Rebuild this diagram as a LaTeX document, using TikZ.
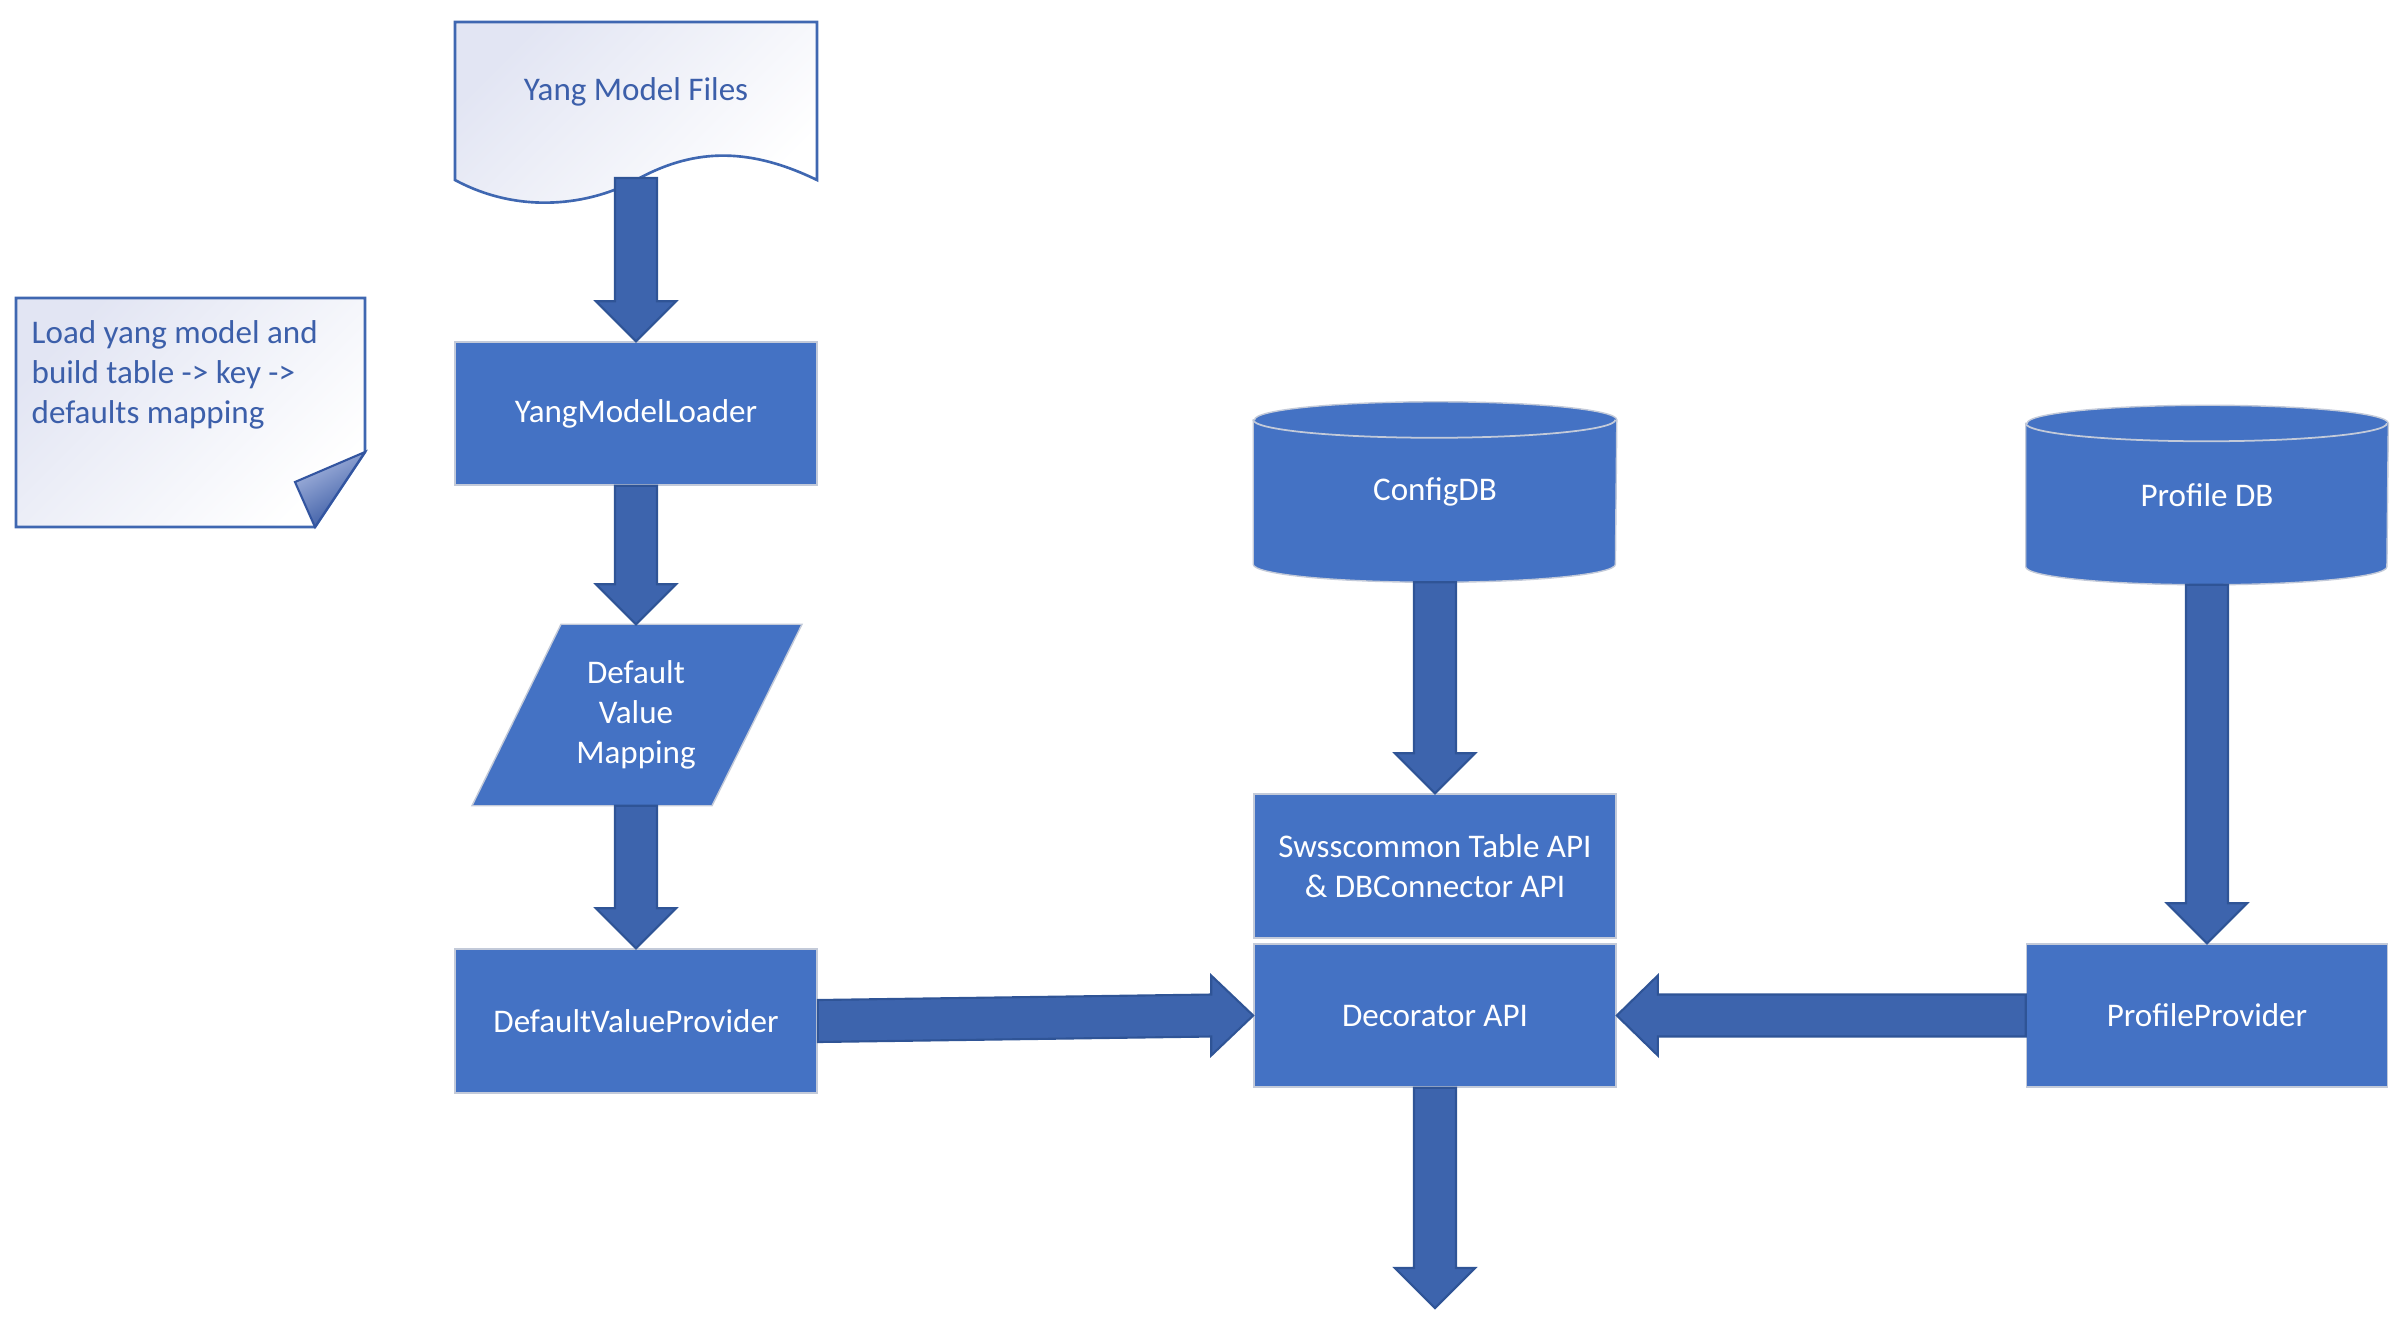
\documentclass[tikz,border=0pt]{standalone}
\usepackage{fontspec}
\setmainfont{Carlito}
\usetikzlibrary{calc,backgrounds}

\definecolor{boxblue}{HTML}{4472C4}
\definecolor{arrowblue}{HTML}{3D64AD}
\definecolor{arrowedge}{HTML}{2F5496}
\definecolor{inkblue}{HTML}{3C5FAA}
\definecolor{paperedge}{HTML}{3F67B1}
\definecolor{paperlav}{HTML}{E2E5F3}
\definecolor{rimgrey}{HTML}{C3CAD9}
\definecolor{foldlight}{HTML}{A9B8E0}
\definecolor{folddark}{HTML}{3355A0}

\tikzset{
  every node/.style={font=\fontsize{9.4}{11.4}\selectfont},
  procbox/.style={rectangle, fill=boxblue, draw=rimgrey, line width=0.4pt,
    text=white, minimum width=3.62cm, minimum height=1.43cm,
    inner sep=0pt, align=center},
  whitelabel/.style={text=white, inner sep=0pt, align=center},
  inklabel/.style={text=inkblue, inner sep=0pt},
  blockarrow/.style={fill=arrowblue, draw=arrowedge, line width=0.6pt, line join=miter},
  paper/.style={draw=paperedge, line width=0.75pt, shading=axis,
    top color=paperlav, bottom color=white, shading angle=45},
  fold/.style={draw=folddark, line width=0.6pt, shading=axis,
    top color=foldlight, middle color=folddark!80!foldlight, bottom color=folddark,
    shading angle=30},
  dbbody/.style={fill=boxblue, draw=rimgrey, line width=0.4pt},
  dbrim/.style={draw=rimgrey, line width=0.5pt},
}

% vertical block arrow: shaft leaves #1, head tip touches #2
\newcommand\blockdown[2]{%
  \draw[blockarrow] ($(#1)+(-21,0)$) -- ($(#2)+(-21,-40)$) -- ($(#2)+(-40,-40)$)
    -- (#2) -- ($(#2)+(40,-40)$) -- ($(#2)+(21,-40)$) -- ($(#1)+(21,0)$) -- cycle;}

\begin{document}
\begin{tikzpicture}[x=0.01cm,y=-0.01cm]
\useasboundingbox (0,0) rectangle (2408,1323);

% sticky note with curled corner
\shadedraw[paper] (16,298) -- (365,298) -- (365,452) -- (315,527) -- (16,527) -- cycle;
\shadedraw[fold] (365,452) -- (295,482) -- (315,527) -- cycle;
\node[inklabel, anchor=west, align=left] (note) at (31,375)
  {Load yang model and\\build table -> key ->\\defaults mapping};

% document shape
\shadedraw[paper] (455,22) -- (817,22) -- (817,180)
  .. controls (745,145) and (690,150) .. (636,180)
  .. controls (590,205) and (520,215) .. (455,180) -- cycle;
\node[inklabel] (yang) at (636,92) {Yang Model Files};
\coordinate (yangfoot) at (636,178);

% left column
\node[procbox] (yml) at (636,413.5) {YangModelLoader};
\node[whitelabel, minimum height=1.80cm, minimum width=2.4cm] (dvm) at (636,715)
  {Default\\Value\\Mapping};
\node[procbox, minimum height=1.44cm] (dvp) at (636,1021) {DefaultValueProvider};

% middle column
\node[whitelabel, minimum width=3.62cm, minimum height=1.79cm] (cfg) at (1435,492) {ConfigDB};
\node[procbox, minimum height=1.44cm] (sws) at (1435,866)
  {Swsscommon Table API\\\& DBConnector API};
\node[procbox] (dec) at (1435,1015.5) {Decorator API};
\coordinate (sink) at (1435,1308);

% right column
\node[whitelabel, minimum width=3.61cm, minimum height=1.78cm] (pdb) at (2207,495) {Profile DB};
\node[procbox, minimum width=3.61cm] (pp) at (2207,1015.5) {ProfileProvider};

% shapes that sit behind their labels
\begin{pgfonlayer}{background}
  \path[dbbody] ($(cfg.north west)+(0,18)$) -- ($(cfg.south west)+(0,-18)$)
    arc[start angle=180, end angle=360, x radius=1.81cm, y radius=0.18cm]
    -- ($(cfg.north east)+(0,18)$)
    arc[start angle=0, end angle=180, x radius=1.81cm, y radius=0.18cm] -- cycle;
  \draw[dbrim] ($(cfg.north west)+(0,18)$)
    arc[start angle=180, end angle=360, x radius=1.81cm, y radius=0.18cm];

  \path[dbbody] ($(pdb.north west)+(0,18)$) -- ($(pdb.south west)+(0,-18)$)
    arc[start angle=180, end angle=360, x radius=1.805cm, y radius=0.18cm]
    -- ($(pdb.north east)+(0,18)$)
    arc[start angle=0, end angle=180, x radius=1.805cm, y radius=0.18cm] -- cycle;
  \draw[dbrim] ($(pdb.north west)+(0,18)$)
    arc[start angle=180, end angle=360, x radius=1.805cm, y radius=0.18cm];

  \path[fill=boxblue, draw=rimgrey, line width=0.4pt]
    ($(dvm.north)+(-75,0)$) -- ($(dvm.north)+(166,0)$)
    -- ($(dvm.south)+(76,0)$) -- ($(dvm.south)+(-164,0)$) -- cycle;
\end{pgfonlayer}

% vertical flow arrows
\blockdown{yangfoot}{yml.north}
\blockdown{yml.south}{dvm.north}
\blockdown{dvm.south}{dvp.north}
\blockdown{cfg.south}{sws.north}
\blockdown{pdb.south}{pp.north}
\blockdown{dec.south}{sink}

% defaults feed into the decorator
\draw[blockarrow] ($(dvp.east)+(0,-21)$) -- ($(dec.west)+(-42,-21)$)
  -- ($(dec.west)+(-42,-40)$) -- (dec.west) -- ($(dec.west)+(-42,40)$)
  -- ($(dec.west)+(-42,21)$) -- ($(dvp.east)+(0,21)$) -- cycle;

% profile values feed into the decorator
\draw[blockarrow] ($(pp.west)+(0,-21)$) -- ($(dec.east)+(41,-21)$)
  -- ($(dec.east)+(41,-40)$) -- (dec.east) -- ($(dec.east)+(41,40)$)
  -- ($(dec.east)+(41,21)$) -- ($(pp.west)+(0,21)$) -- cycle;

\end{tikzpicture}
\end{document}
